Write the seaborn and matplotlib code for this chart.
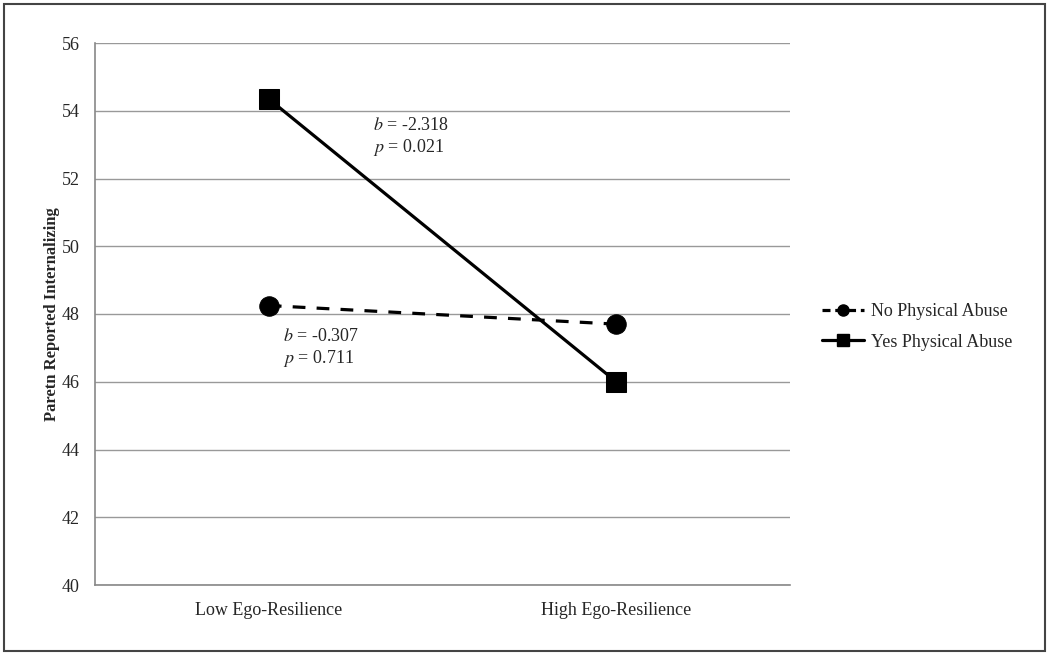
import pandas as pd
import matplotlib
matplotlib.use('Agg')
import matplotlib.pyplot as plt
from matplotlib.lines import Line2D
from matplotlib.patches import Rectangle
import seaborn as sns

# Chart values
categories = ['Low Ego-Resilience', 'High Ego-Resilience']
groups = ['No Physical Abuse', 'Yes Physical Abuse']
no_abuse = [48.25, 47.7]
yes_abuse = [54.35, 46.0]
y_ticks = [40, 42, 44, 46, 48, 50, 52, 54, 56]

df = pd.DataFrame({
    'pos': [0, 1, 0, 1],
    'value': no_abuse + yes_abuse,
    'group': [groups[0]] * 2 + [groups[1]] * 2,
})

sns.set_style('white')
plt.rcParams['font.family'] = ['Liberation Serif', 'DejaVu Serif']

fig = plt.figure(figsize=(10.49, 6.54), dpi=100)
ax = fig.add_axes([95 / 1049, 1 - 585 / 654, 695 / 1049, 542 / 654])

sns.lineplot(data=df, x='pos', y='value', style='group', ax=ax,
             color='black', linewidth=2.3,
             markers={groups[0]: 'o', groups[1]: 's'},
             dashes={groups[0]: (4, 3.5), groups[1]: ''},
             markersize=14, markeredgecolor='black', legend=False)

ax.set_xlim(-0.5, 1.5)
ax.set_ylim(40, 56)
ax.set_yticks(y_ticks)
ax.set_xticks([0, 1])
ax.set_xticklabels(categories)
ax.set_xticks([-0.5, 0.5, 1.5], minor=True)
ax.tick_params(axis='x', which='major', length=0, pad=12, labelsize=13)
ax.tick_params(axis='x', which='minor', length=5, color='#888888', direction='out')
ax.tick_params(axis='y', length=5, color='#888888', direction='out', labelsize=13, pad=6)
ax.yaxis.grid(True, color='#999999', linewidth=1)
ax.set_axisbelow(True)
for side in ['top', 'right']:
    ax.spines[side].set_visible(False)
for side in ['left', 'bottom']:
    ax.spines[side].set_color('#888888')
    ax.spines[side].set_linewidth(1.2)
ax.set_xlabel('')
ax.set_ylabel('Paretn Reported Internalizing', fontsize=12, fontweight='bold', labelpad=1)

# slope annotations
ax.text(0.30, 53.2, '$\\it{b}$ = -2.318\n$\\it{p}$ = 0.021', fontsize=13,
        va='center', ha='left', linespacing=1.2, math_fontfamily='stix')
ax.text(0.04, 46.98, '$\\it{b}$ = -0.307\n$\\it{p}$ = 0.711', fontsize=13,
        va='center', ha='left', linespacing=1.2, math_fontfamily='stix')

handles = [
    Line2D([], [], color='black', linewidth=2.3, linestyle=(0, (2.5, 1.5)),
           marker='o', markersize=8),
    Line2D([], [], color='black', linewidth=2.3, marker='s', markersize=8),
]
fig.legend(handles, groups, loc='center left', bbox_to_anchor=(815 / 1049, 1 - 327 / 654),
           frameon=False, fontsize=13, handlelength=2.3, handletextpad=0.4,
           labelspacing=0.75, borderaxespad=0)

fig.patches.append(Rectangle((4 / 1049, 3 / 654), 1041 / 1049, 647 / 654,
                             transform=fig.transFigure, fill=False,
                             edgecolor='#444444', linewidth=1.5))

fig.savefig('out.png', dpi=100)
